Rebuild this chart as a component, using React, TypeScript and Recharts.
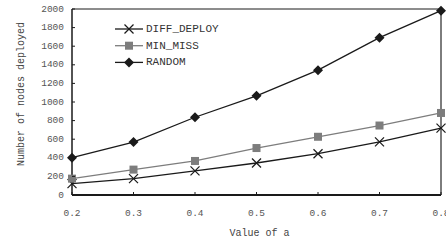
import { LineChart, Line, XAxis, YAxis, Legend, ReferenceLine, Label } from 'recharts'

const aValues = [0.2, 0.3, 0.4, 0.5, 0.6, 0.7, 0.8]
const diffDeploy = [123, 176, 259, 344, 444, 572, 719]
const minMiss = [176, 273, 366, 505, 626, 747, 882]
const random = [401, 569, 836, 1067, 1342, 1692, 1982]
const yTicks = [0, 200, 400, 600, 800, 1000, 1200, 1400, 1600, 1800, 2000]

const data = aValues.map((a, i) => ({
  a,
  diff: diffDeploy[i],
  miss: minMiss[i],
  random: random[i],
}))

const FONT = '"Liberation Mono", "Courier New", monospace'
const DARK = '#1a1a1a'
const GREY = '#7d7d7d'

const Cross = (props: any) => {
  const { cx, cy } = props
  if (cx == null || cy == null) return null
  const r = 4.5
  return (
    <g stroke={DARK} strokeWidth={1.2}>
      <line x1={cx - r} y1={cy - r} x2={cx + r} y2={cy + r} />
      <line x1={cx - r} y1={cy + r} x2={cx + r} y2={cy - r} />
    </g>
  )
}

const Square = (props: any) => {
  const { cx, cy } = props
  if (cx == null || cy == null) return null
  return <rect x={cx - 4} y={cy - 4} width={8} height={8} fill={GREY} />
}

const Diamond = (props: any) => {
  const { cx, cy } = props
  if (cx == null || cy == null) return null
  const r = 5
  return <polygon points={`${cx},${cy - r} ${cx + r},${cy} ${cx},${cy + r} ${cx - r},${cy}`} fill={DARK} />
}

const YTick = (props: any) => {
  const { x, y, payload } = props
  return (
    <g>
      <line x1={x + 8} y1={y} x2={x + 11} y2={y} stroke={DARK} />
      <text x={x} y={y} textAnchor="end" dominantBaseline="central" fontFamily={FONT} fontSize={9.5} fill="#555">
        {payload.value}
      </text>
    </g>
  )
}

const XTick = (props: any) => {
  const { x, y, payload } = props
  return (
    <g>
      <line x1={x} y1={y} x2={x} y2={y - 3} stroke={DARK} />
      <text x={x} y={y + 18} textAnchor="middle" dominantBaseline="central" fontFamily={FONT} fontSize={9.5} fill="#555">
        {payload.value.toFixed(1)}
      </text>
    </g>
  )
}

const legendItems = [
  { name: 'DIFF_DEPLOY', color: DARK, Marker: Cross },
  { name: 'MIN_MISS', color: GREY, Marker: Square },
  { name: 'RANDOM', color: DARK, Marker: Diamond },
]

const LegendBox = () => (
  <svg width={130} height={50} style={{ display: 'block' }}>
    {legendItems.map((it, i) => {
      const cy = 8 + i * 16.7
      return (
        <g key={it.name}>
          <line x1={2} y1={cy} x2={30} y2={cy} stroke={it.color} strokeWidth={1.3} />
          <it.Marker cx={16} cy={cy} />
          <text x={33} y={cy} dominantBaseline="central" fontFamily={FONT} fontSize={11} fill="#333">
            {it.name}
          </text>
        </g>
      )
    })}
  </svg>
)

export default function App() {
  return (
    <div style={{ position: 'fixed', left: 0, top: 0, width: 446, height: 242, overflow: 'hidden', background: '#fff' }}>
      <LineChart width={446} height={242} data={data} margin={{ top: 9, right: 5, left: 0, bottom: 0 }}>
        <XAxis
          dataKey="a"
          type="number"
          domain={[0.2, 0.8]}
          ticks={aValues}
          interval={0}
          height={47}
          tickSize={0}
          tickMargin={0}
          tick={<XTick />}
          axisLine={{ stroke: DARK, strokeWidth: 2 }}
        >
          <Label value="Value of a" position="insideBottom" offset={6} dx={3} style={{ fontFamily: FONT, fontSize: 10, fill: '#444' }} />
        </XAxis>
        <YAxis
          type="number"
          domain={[0, 2000]}
          ticks={yTicks}
          interval={0}
          width={72}
          tickSize={0}
          tickMargin={8}
          tick={<YTick />}
          axisLine={{ stroke: DARK, strokeWidth: 1.5 }}
        >
          <Label
            content={(p: any) => {
              const vb = p.viewBox
              const cx = 21
              const cy = vb.y + vb.height / 2 - 8
              return (
                <text x={cx} y={cy} transform={`rotate(-90 ${cx} ${cy})`} textAnchor="middle" dominantBaseline="central" fontFamily={FONT} fontSize={10} fill="#444">
                  Number of nodes deployed
                </text>
              )
            }}
          />
        </YAxis>
        <ReferenceLine y={2000} stroke={DARK} strokeWidth={1} />
        <ReferenceLine x={0.8} stroke={GREY} strokeWidth={2} />
        <Legend
          layout="horizontal"
          verticalAlign="middle"
          align="center"
          wrapperStyle={{ top: 21, left: 113, width: 130, height: 50 }}
          content={<LegendBox />}
        />
        <Line dataKey="diff" stroke={DARK} strokeWidth={1.3} dot={<Cross />} isAnimationActive={false} />
        <Line dataKey="miss" stroke={GREY} strokeWidth={1.3} dot={<Square />} isAnimationActive={false} />
        <Line dataKey="random" stroke={DARK} strokeWidth={1.3} dot={<Diamond />} isAnimationActive={false} />
      </LineChart>
    </div>
  )
}
